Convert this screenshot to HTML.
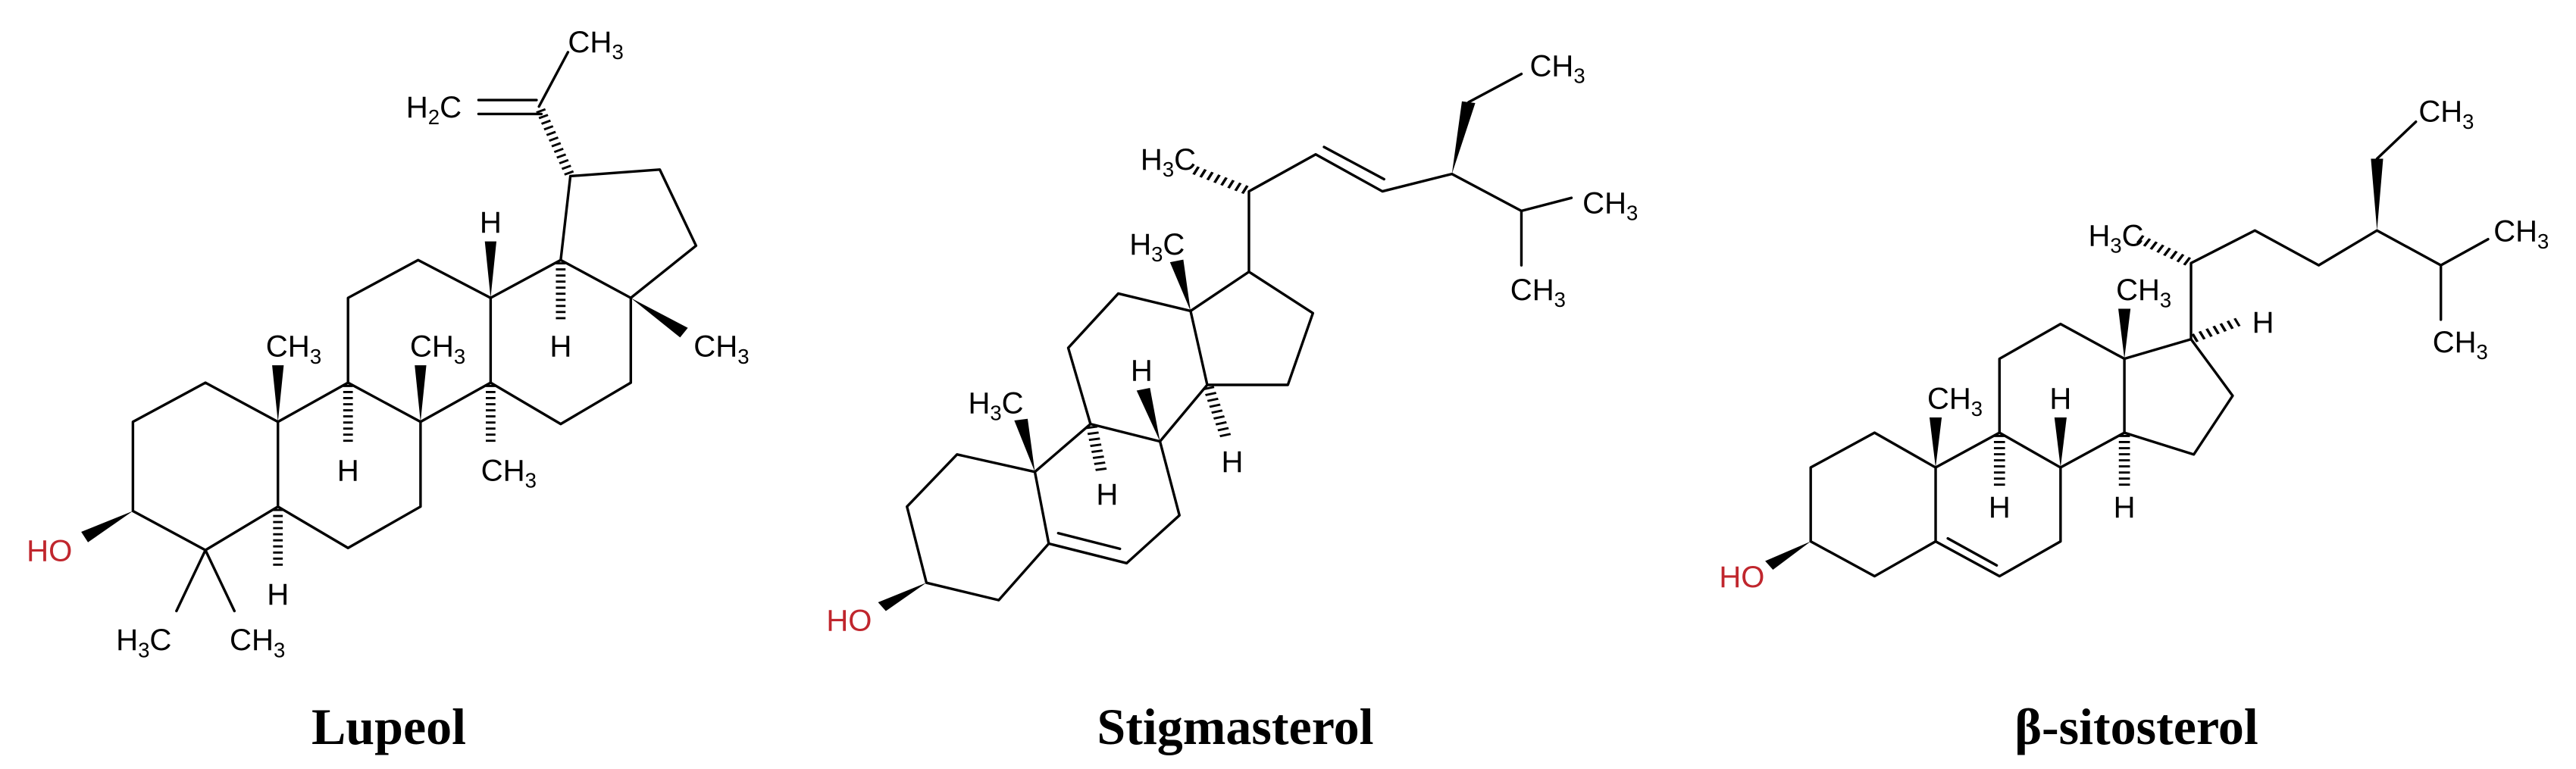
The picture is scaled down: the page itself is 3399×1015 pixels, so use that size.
<!DOCTYPE html>
<html><head><meta charset="utf-8"><style>
html,body{margin:0;padding:0;background:#fff;}
svg{display:block;}
.b{stroke:#000;stroke-width:3.4;fill:none;vector-effect:non-scaling-stroke;stroke-linecap:round;stroke-linejoin:round;}
.h{stroke:#000;stroke-width:20;stroke-dasharray:5 9;fill:none;}
.w{fill:#000;stroke:none;}
text.l{font-family:"Liberation Sans",sans-serif;font-size:70px;fill:#000;}
text.r{fill:#c0262d;}
.s{font-size:48px;}
.t{font-family:"Liberation Serif",serif;font-weight:bold;font-size:68px;fill:#000;}
</style></head><body>
<svg width="3399" height="1015" viewBox="0 0 3399 1015" xmlns="http://www.w3.org/2000/svg">
<rect width="3399" height="1015" fill="#fff"/>

<!-- LUPEOL -->
<g transform="scale(0.6378,0.574)">
<path class="b" d="M275,970 L425,880 L575,970 L575,1165 L425,1265 L275,1175 Z"/>
<path class="b" d="M575,970 L720,880 L870,970 L870,1165 L720,1260 L575,1165"/>
<path class="b" d="M720,880 L720,685 L865,598 L1015,685 L1015,880 L870,970"/>
<path class="b" d="M1015,685 L1160,598 L1305,685 L1305,880 L1160,975 L1015,880"/>
<path class="b" d="M1160,598 L1180,405 L1365,390 L1440,565 L1305,685"/>
<path class="b" d="M425,1265 L365,1405 M425,1265 L485,1405"/>
<path class="b" d="M990,230 L1110,230 M990,262 L1120,262 M1115,245 L1175,120"/>
<polygon class="w" points="275,1175 182,1247 168,1223"/>
<polygon class="w" points="575,970 563,840 587,840"/>
<polygon class="w" points="870,970 858,840 882,840"/>
<polygon class="w" points="1015,685 1003,555 1027,555"/>
<polygon class="w" points="1305,685 1407,776 1423,754"/>
<line class="h" x1="575" y1="1170" x2="575" y2="1310"/>
<line class="h" x1="720" y1="885" x2="720" y2="1025"/>
<line class="h" x1="1015" y1="885" x2="1015" y2="1025"/>
<line class="h" x1="1160" y1="603" x2="1160" y2="740"/>
<line class="h" x1="1178" y1="400" x2="1117" y2="250"/>
<g transform="translate(1175,120) scale(0.9,1)"><text class="l">CH<tspan class="s" dy="16">3</tspan></text></g>
<g transform="translate(840,270) scale(0.9,1)"><text class="l">H<tspan class="s" dy="16">2</tspan><tspan dy="-16">C</tspan></text></g>
<g transform="translate(1015,535) scale(0.9,1)"><text class="l" text-anchor="middle">H</text></g>
<g transform="translate(550,820) scale(0.9,1)"><text class="l">CH<tspan class="s" dy="16">3</tspan></text></g>
<g transform="translate(848,820) scale(0.9,1)"><text class="l">CH<tspan class="s" dy="16">3</tspan></text></g>
<g transform="translate(1160,820) scale(0.9,1)"><text class="l" text-anchor="middle">H</text></g>
<g transform="translate(1435,820) scale(0.9,1)"><text class="l">CH<tspan class="s" dy="16">3</tspan></text></g>
<g transform="translate(720,1105) scale(0.9,1)"><text class="l" text-anchor="middle">H</text></g>
<g transform="translate(995,1105) scale(0.9,1)"><text class="l">CH<tspan class="s" dy="16">3</tspan></text></g>
<g transform="translate(55,1290) scale(0.9,1)"><text class="l r">HO</text></g>
<g transform="translate(575,1390) scale(0.9,1)"><text class="l" text-anchor="middle">H</text></g>
<g transform="translate(240,1495) scale(0.9,1)"><text class="l">H<tspan class="s" dy="16">3</tspan><tspan dy="-16">C</tspan></text></g>
<g transform="translate(475,1495) scale(0.9,1)"><text class="l">CH<tspan class="s" dy="16">3</tspan></text></g>
</g>

<!-- STIGMASTEROL -->
<g transform="translate(1050,0) scale(0.7337,0.574)">
<path class="b" d="M290,1045 L430,1085 L455,1250 L365,1380 L235,1340 L200,1165 Z"/>
<path class="b" d="M430,1085 L530,975 L655,1015 L690,1185 L595,1295 L455,1250"/>
<path class="b" d="M472,1226 L583,1262"/>
<path class="b" d="M530,975 L490,800 L580,675 L710,715 L740,885 L655,1015"/>
<path class="b" d="M710,715 L815,625 L930,720 L885,885 L740,885"/>
<path class="b" d="M815,625 L815,440 L935,355 L1055,440 L1180,400 L1305,485 L1395,455 M1305,485 L1305,610"/>
<path class="b" d="M950,338 L1058,412"/>
<path class="b" d="M1210,235 L1305,170"/>
<polygon class="w" points="235,1340 162,1405 148,1385"/>
<polygon class="w" points="430,1085 393,967 417,963"/>
<polygon class="w" points="655,1015 613,898 637,892"/>
<polygon class="w" points="710,715 673,603 697,597"/>
<polygon class="w" points="1180,400 1198,233 1222,237"/>
<line class="h" x1="532" y1="980" x2="550" y2="1085"/>
<line class="h" x1="742" y1="890" x2="775" y2="1010"/>
<line class="h" x1="810" y1="437" x2="715" y2="390"/>
<g transform="translate(310,950) scale(0.78,1)"><text class="l">H<tspan class="s" dy="16">3</tspan><tspan dy="-16">C</tspan></text></g>
<g transform="translate(622,875) scale(0.78,1)"><text class="l" text-anchor="middle">H</text></g>
<g transform="translate(560,1160) scale(0.78,1)"><text class="l" text-anchor="middle">H</text></g>
<g transform="translate(785,1085) scale(0.78,1)"><text class="l" text-anchor="middle">H</text></g>
<g transform="translate(600,585) scale(0.78,1)"><text class="l">H<tspan class="s" dy="16">3</tspan><tspan dy="-16">C</tspan></text></g>
<g transform="translate(620,390) scale(0.78,1)"><text class="l">H<tspan class="s" dy="16">3</tspan><tspan dy="-16">C</tspan></text></g>
<g transform="translate(1320,175) scale(0.78,1)"><text class="l">CH<tspan class="s" dy="16">3</tspan></text></g>
<g transform="translate(1415,490) scale(0.78,1)"><text class="l">CH<tspan class="s" dy="16">3</tspan></text></g>
<g transform="translate(1285,690) scale(0.78,1)"><text class="l">CH<tspan class="s" dy="16">3</tspan></text></g>
<g transform="translate(55,1450) scale(0.78,1)"><text class="l r">HO</text></g>
</g>

<!-- BETA-SITOSTEROL -->
<g transform="translate(2250,0) scale(0.7326,0.574)">
<path class="b" d="M305,995 L190,1075 L190,1245 L305,1325 L415,1245 L415,1075 Z"/>
<path class="b" d="M415,1075 L530,995 L640,1075 L640,1245 L530,1325 L415,1245"/>
<path class="b" d="M437,1238 L525,1300"/>
<path class="b" d="M530,995 L530,825 L640,745 L755,825 L755,995 L640,1075"/>
<path class="b" d="M755,825 L875,780 L950,910 L880,1045 L755,995"/>
<path class="b" d="M875,780 L875,605 L990,530 L1105,610 L1210,530 L1325,610 L1410,550 M1325,610 L1325,735"/>
<path class="b" d="M1210,365 L1280,280"/>
<polygon class="w" points="190,1245 122,1310 108,1290"/>
<polygon class="w" points="415,1075 404,960 426,960"/>
<polygon class="w" points="640,1075 629,960 651,960"/>
<polygon class="w" points="755,825 744,710 766,710"/>
<polygon class="w" points="1210,530 1199,365 1221,365"/>
<line class="h" x1="530" y1="1000" x2="530" y2="1120"/>
<line class="h" x1="755" y1="1000" x2="755" y2="1120"/>
<line class="h" x1="880" y1="778" x2="960" y2="740"/>
<line class="h" x1="870" y1="602" x2="775" y2="545"/>
<g transform="translate(400,940) scale(0.78,1)"><text class="l">CH<tspan class="s" dy="16">3</tspan></text></g>
<g transform="translate(640,940) scale(0.78,1)"><text class="l" text-anchor="middle">H</text></g>
<g transform="translate(530,1190) scale(0.78,1)"><text class="l" text-anchor="middle">H</text></g>
<g transform="translate(755,1190) scale(0.78,1)"><text class="l" text-anchor="middle">H</text></g>
<g transform="translate(740,690) scale(0.78,1)"><text class="l">CH<tspan class="s" dy="16">3</tspan></text></g>
<g transform="translate(985,765) scale(0.78,1)"><text class="l">H</text></g>
<g transform="translate(690,565) scale(0.78,1)"><text class="l">H<tspan class="s" dy="16">3</tspan><tspan dy="-16">C</tspan></text></g>
<g transform="translate(1285,280) scale(0.78,1)"><text class="l">CH<tspan class="s" dy="16">3</tspan></text></g>
<g transform="translate(1420,555) scale(0.78,1)"><text class="l">CH<tspan class="s" dy="16">3</tspan></text></g>
<g transform="translate(1310,810) scale(0.78,1)"><text class="l">CH<tspan class="s" dy="16">3</tspan></text></g>
<g transform="translate(25,1350) scale(0.78,1)"><text class="l r">HO</text></g>
</g>

<text class="t" x="513" y="982" text-anchor="middle">Lupeol</text>
<text class="t" x="1630" y="982" text-anchor="middle">Stigmasterol</text>
<text class="t" x="2819" y="982" text-anchor="middle">β-sitosterol</text>
</svg>
</body></html>
